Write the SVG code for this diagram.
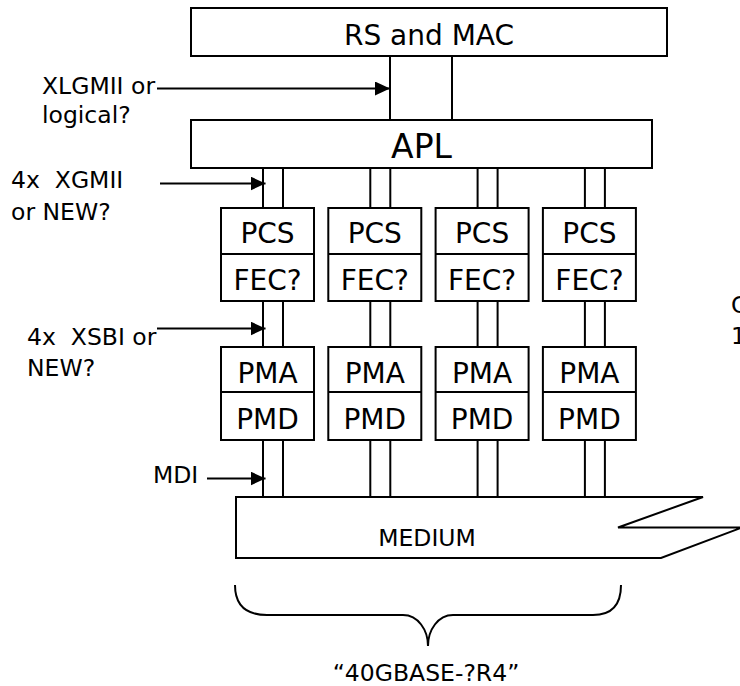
<svg xmlns="http://www.w3.org/2000/svg" width="740" height="686" viewBox="0 0 740 686">
  <style>
    .box { fill: #fff; stroke: #000; stroke-width: 2; }
    .div { stroke: #000; stroke-width: 2; }
    .lane { stroke: #000; stroke-width: 2; fill: none; }
    .arrow { stroke: #000; stroke-width: 2; fill: none; marker-end: url(#head); }
    .brace { stroke: #000; stroke-width: 2; fill: none; }
    text { font-family: "DejaVu Sans", "Liberation Sans", sans-serif; fill: #000; white-space: pre; }
    .big { font-size: 28px; text-anchor: middle; }
    .apl { font-size: 33px; text-anchor: middle; }
    .lbl { font-size: 23.5px; }
    .mid { font-size: 23.5px; text-anchor: middle; }
  </style>
  <defs>
    <marker id="head" markerUnits="userSpaceOnUse" viewBox="0 0 15 14" refX="15" refY="7" markerWidth="15" markerHeight="14" orient="auto">
      <path d="M0,0 L15,7 L0,14 z" fill="#000"/>
    </marker>
  </defs>

  <!-- upper layers -->
  <g id="rs-mac">
    <rect class="box" x="191" y="8" width="476" height="48"/>
    <text class="big" x="429" y="45">RS and MAC</text>
  </g>
  <g id="xlgmii">
    <rect class="box" x="390" y="56" width="62" height="64"/>
  </g>
  <g id="apl">
    <rect class="box" x="191" y="120" width="461" height="48"/>
    <text class="apl" x="421.5" y="158">APL</text>
  </g>

  <!-- four lanes: PCS/FEC and PMA/PMD -->
  <g id="pcs-1">
    <rect class="box" x="221" y="208" width="93" height="93"/>
    <line class="div" x1="221" y1="254" x2="314" y2="254"/>
    <text class="big" x="267.5" y="243">PCS</text>
    <text class="big" x="267.5" y="290">FEC?</text>
  </g>
  <g id="pcs-2">
    <rect class="box" x="328.3" y="208" width="93" height="93"/>
    <line class="div" x1="328.3" y1="254" x2="421.3" y2="254"/>
    <text class="big" x="374.8" y="243">PCS</text>
    <text class="big" x="374.8" y="290">FEC?</text>
  </g>
  <g id="pcs-3">
    <rect class="box" x="435.6" y="208" width="93" height="93"/>
    <line class="div" x1="435.6" y1="254" x2="528.6" y2="254"/>
    <text class="big" x="482.1" y="243">PCS</text>
    <text class="big" x="482.1" y="290">FEC?</text>
  </g>
  <g id="pcs-4">
    <rect class="box" x="542.9" y="208" width="93" height="93"/>
    <line class="div" x1="542.9" y1="254" x2="635.9" y2="254"/>
    <text class="big" x="589.4" y="243">PCS</text>
    <text class="big" x="589.4" y="290">FEC?</text>
  </g>

  <g id="pma-1">
    <rect class="box" x="221" y="347" width="93" height="93"/>
    <line class="div" x1="221" y1="392" x2="314" y2="392"/>
    <text class="big" x="267.5" y="382.5">PMA</text>
    <text class="big" x="267.5" y="428.5">PMD</text>
  </g>
  <g id="pma-2">
    <rect class="box" x="328.3" y="347" width="93" height="93"/>
    <line class="div" x1="328.3" y1="392" x2="421.3" y2="392"/>
    <text class="big" x="374.8" y="382.5">PMA</text>
    <text class="big" x="374.8" y="428.5">PMD</text>
  </g>
  <g id="pma-3">
    <rect class="box" x="435.6" y="347" width="93" height="93"/>
    <line class="div" x1="435.6" y1="392" x2="528.6" y2="392"/>
    <text class="big" x="482.1" y="382.5">PMA</text>
    <text class="big" x="482.1" y="428.5">PMD</text>
  </g>
  <g id="pma-4">
    <rect class="box" x="542.9" y="347" width="93" height="93"/>
    <line class="div" x1="542.9" y1="392" x2="635.9" y2="392"/>
    <text class="big" x="589.4" y="382.5">PMA</text>
    <text class="big" x="589.4" y="428.5">PMD</text>
  </g>

  <!-- medium with broken right edge -->
  <g id="medium">
    <path class="box" d="M236,497 L703,497 L618,527.5 L742,527.5 L661,558 L236,558 Z"/>
    <text class="mid" x="427" y="546">MEDIUM</text>
  </g>

  <!-- lane pairs and interface arrows -->
  <g id="connectors">
    <path class="lane" d="M263,168 V208 M283,168 V208 M370.3,168 V208 M390.3,168 V208 M477.6,168 V208 M497.6,168 V208 M584.9,168 V208 M604.9,168 V208"/>
    <path class="lane" d="M263,301 V347 M283,301 V347 M370.3,301 V347 M390.3,301 V347 M477.6,301 V347 M497.6,301 V347 M584.9,301 V347 M604.9,301 V347"/>
    <path class="lane" d="M263,440 V497 M283,440 V497 M370.3,440 V497 M390.3,440 V497 M477.6,440 V497 M497.6,440 V497 M584.9,440 V497 M604.9,440 V497"/>
    <line class="arrow" x1="157" y1="88.5" x2="390" y2="88.5"/>
    <line class="arrow" x1="160" y1="183.5" x2="265.5" y2="183.5"/>
    <line class="arrow" x1="157" y1="328.5" x2="265.5" y2="328.5"/>
    <line class="arrow" x1="207" y1="478.5" x2="265.5" y2="478.5"/>
  </g>

  <!-- interface labels -->
  <g id="labels">
    <text class="lbl" x="42" y="94">XLGMII or</text>
    <text class="lbl" x="42" y="123">logical?</text>
    <text class="lbl" x="11" y="188">4x  XGMII</text>
    <text class="lbl" x="11" y="220">or NEW?</text>
    <text class="lbl" x="27" y="345">4x  XSBI or</text>
    <text class="lbl" x="27" y="376">NEW?</text>
    <text class="lbl" x="153" y="483">MDI</text>
    <text class="lbl" x="731" y="313">C</text>
    <text class="lbl" x="731" y="344">1</text>
  </g>

  <!-- brace spanning the four lanes -->
  <g id="brace">
    <path class="brace" d="M235,585 C235,605 245,615 267,615 L403,615 C418,615 428,630 428,646 C428,630 438,615 453,615 L593,615 C612,615 621,605 621,585"/>
    <text class="mid" x="426" y="681">“40GBASE-?R4”</text>
  </g>
</svg>
